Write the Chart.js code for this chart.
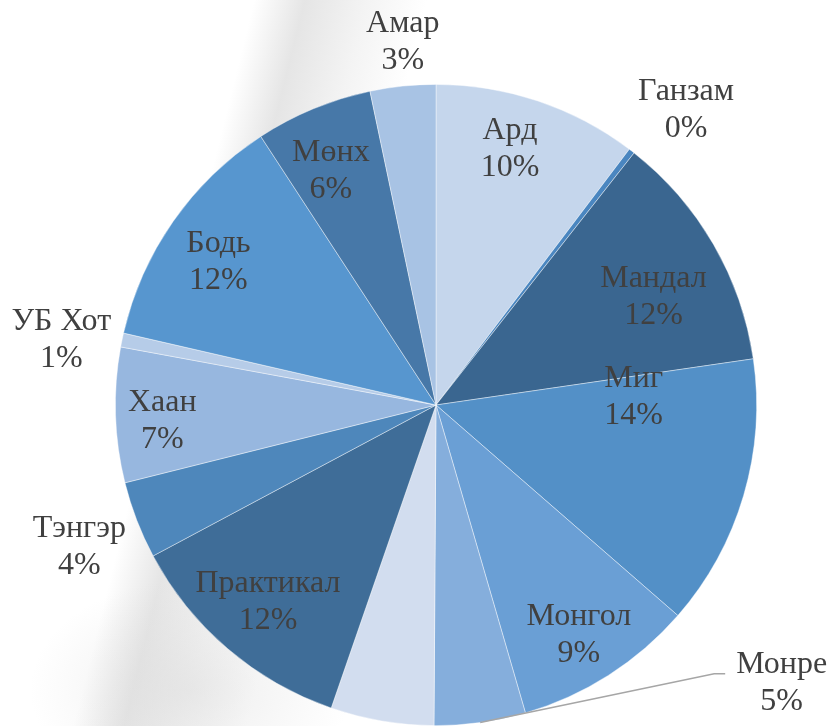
<!DOCTYPE html>
<html><head><meta charset="utf-8">
<script src="https://cdn.jsdelivr.net/npm/chart.js@4/dist/chart.umd.min.js"></script>
<style>
html,body{margin:0;padding:0;background:#fff;overflow:hidden}
#wrap{position:relative;width:836px;height:726px;
background:
 radial-gradient(ellipse 160px 110px at 190px 690px, rgba(215,215,215,0.45), rgba(255,255,255,0) 100%),
 linear-gradient(104deg, rgba(255,255,255,0) 25%, rgba(212,212,212,0.6) 30%, rgba(232,232,232,0.5) 36%, rgba(255,255,255,0) 42%);}
canvas{display:block}
</style></head><body>
<div id="wrap"><canvas id="c" width="836" height="726"></canvas></div>
<script>
const categories = ["Ард","Ганзам","Мандал","Миг","Монгол","Монре","Бусад","Практикал","Тэнгэр","Хаан","УБ Хот","Бодь","Мөнх","Амар"];
const shares = [10.3, 0.3, 12.1, 13.7, 9.1, 4.6, 5.2, 11.9, 3.9, 6.8, 0.7, 12.2, 5.9, 3.3];
const percentLabels = shares.map(v => Math.round(v) + "%");

const sliceColors = ["#C5D6EC","#4A86C0","#3A6690","#5390C7","#6A9FD5","#85AEDC","#D2DDEF",
                     "#3F6D98","#4E87BB","#97B7DF","#B6CCE8","#5796CF","#4778A8","#A8C3E4"];
// label placement per slice: [angle offset (deg), radius fraction, outside?, leader line?]
const labelPlacement = [
  [-2.4, 0.83, false, false],
  [2.7, 1.205, true, false],
  [3.7, 0.757, false, false],
  [-18.7, 0.617, false, false],
  [0.8, 0.846, false, false],
  [-43.3, 1.383, true, true],
  null,
  [0, 0.807, false, false],
  [-0.7, 1.198, true, false],
  [-1.5, 0.855, false, false],
  [-1.9, 1.186, true, false],
  [-1.6, 0.812, false, false],
  [-1.7, 0.80, false, false],
  [0.7, 1.136, true, false]
];

const FONT = "32px 'Liberation Serif', 'Times New Roman', serif";
const LINE_H = 37;

const labelPlugin = {
  id: 'sliceLabels',
  afterDatasetsDraw(chart) {
    const ctx = chart.ctx;
    const meta = chart.getDatasetMeta(0);
    ctx.save();
    ctx.font = FONT;
    ctx.fillStyle = "#404040";
    ctx.textAlign = "center";
    ctx.textBaseline = "middle";
    meta.data.forEach((arc, i) => {
      const pl = labelPlacement[i];
      if (!pl) return;
      const p = arc.getProps(['x','y','startAngle','endAngle','outerRadius'], true);
      const mid = (p.startAngle + p.endAngle) / 2;
      const a = mid + pl[0] * Math.PI / 180;
      const lx = p.x + Math.cos(a) * p.outerRadius * pl[1];
      const ly = p.y + Math.sin(a) * p.outerRadius * pl[1];
      if (pl[3]) {
        const w = ctx.measureText(categories[i]).width;
        const ex = lx - w / 2 - 11, ey = ly - 9;
        const sx = p.x + Math.cos(mid) * p.outerRadius;
        const sy = p.y + Math.sin(mid) * p.outerRadius;
        ctx.beginPath();
        ctx.strokeStyle = "#A6A6A6";
        ctx.lineWidth = 1.5;
        ctx.moveTo(sx, sy);
        ctx.lineTo(ex - 11, ey);
        ctx.lineTo(ex, ey);
        ctx.stroke();
      }
      ctx.fillText(categories[i], lx, ly - LINE_H / 2);
      ctx.fillText(percentLabels[i], lx, ly + LINE_H / 2);
    });
    ctx.restore();
  }
};

new Chart(document.getElementById('c'), {
  type: 'pie',
  data: {
    labels: categories,
    datasets: [{
      data: shares,
      backgroundColor: sliceColors,
      borderColor: "rgba(255,255,255,0.55)",
      borderWidth: 0.75
    }]
  },
  options: {
    responsive: false,
    animation: false,
    devicePixelRatio: 1,
    layout: { padding: { left: 115, right: 79, top: 84, bottom: 0 } },
    plugins: { legend: { display: false }, tooltip: { enabled: false } }
  },
  plugins: [labelPlugin]
});
</script>
</body></html>
